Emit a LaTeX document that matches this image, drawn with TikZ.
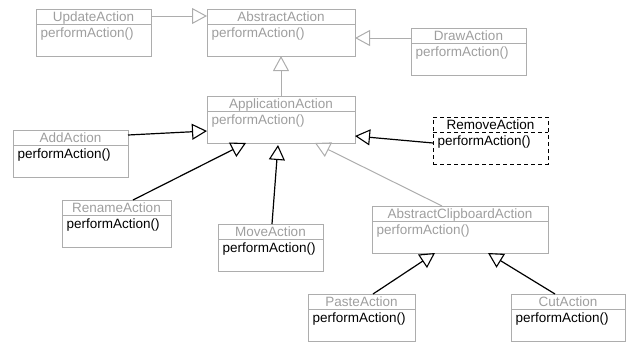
\documentclass[tikz,border=0pt]{standalone}
\usepackage{fontspec}
\setmainfont{Liberation Sans}
\usetikzlibrary{arrows.meta,calc}
\definecolor{boxgray}{gray}{0.68}
\definecolor{textgray}{gray}{0.62}

% class box: name, x, y (top left), width, box style, title colour, title, method colour, method
\newcommand\umlclass[9]{%
  \node[classbox,#5,minimum width=#4pt,anchor=north west] (#1) at (#2,#3) {};
  \draw[#5] ($(#1.north west)+(0,15)$) -- ($(#1.north east)+(0,15)$);
  \node[anchor=base,inner sep=0pt,text=#6] (#1-title) at ($(#1.north)+(0,12)$) {#7};
  \node[anchor=base west,inner sep=0pt,text=#8] (#1-method) at ($(#1.north west)+(4.5,28)$) {#9};
}

\begin{document}
\begin{tikzpicture}[x=1pt,y=-1pt,
  every node/.style={font=\fontsize{13.5}{16}\selectfont},
  classbox/.style={draw=boxgray,line width=0.9pt,minimum height=47pt,inner sep=0pt,outer sep=0pt},
  plainbox/.style={draw=boxgray,line width=0.9pt},
  dashbox/.style={draw=black,line width=1pt,dash pattern=on 4pt off 3pt},
  inherit/.style={line width=1.2pt,draw=black,
    -{Triangle[open,length=15pt,width=16pt,line width=1.1pt]}},
  inheritgray/.style={line width=1pt,draw=boxgray,
    -{Triangle[open,length=15pt,width=16pt,line width=1pt]}}]
\useasboundingbox (0,0) rectangle (629,343);

% classes
\umlclass{update}{36}{9}{115}{plainbox}{textgray}{UpdateAction}{textgray}{performAction()}
\umlclass{abstract}{207}{9}{148}{plainbox}{textgray}{AbstractAction}{textgray}{performAction()}
\umlclass{draw}{411}{28}{115}{plainbox}{textgray}{DrawAction}{textgray}{performAction()}
\umlclass{app}{207}{96}{148}{plainbox}{textgray}{ApplicationAction}{textgray}{performAction()}
\umlclass{add}{13}{130}{115}{plainbox}{textgray}{AddAction}{black}{performAction()}
\umlclass{remove}{433}{117}{115}{dashbox}{black}{RemoveAction}{black}{performAction()}
\umlclass{rename}{62}{200}{109}{plainbox}{textgray}{RenameAction}{black}{performAction()}
\umlclass{move}{218}{224}{105}{plainbox}{textgray}{MoveAction}{black}{performAction()}
\umlclass{clip}{372}{206}{176}{plainbox}{textgray}{AbstractClipboardAction}{textgray}{performAction()}
\umlclass{paste}{308}{294}{107}{plainbox}{textgray}{PasteAction}{black}{performAction()}
\umlclass{cut}{511}{294}{114}{plainbox}{textgray}{CutAction}{black}{performAction()}

% generalisations
\draw[inheritgray] ($(update.north east)+(0,7)$) -- ($(abstract.north west)+(0,7)$);
\draw[inheritgray] ($(draw.north west)+(0,10)$) -- ($(abstract.north east)+(0,29)$);
\draw[inheritgray] (app.north) -- (abstract.south);
\draw[inherit] ($(add.north east)+(0,5)$) -- ($(app.north west)+(0,35)$);
\draw[inherit] ($(rename.north west)+(71,0)$) -- ($(app.south west)+(39,0)$);
\draw[inherit] ($(move.north west)+(54,0)$) -- ($(app.south west)+(71,2)$);
\draw[inherit] ($(remove.north west)+(0,26)$) -- ($(app.north east)+(0,40)$);
\draw[inheritgray] ($(clip.north west)+(70,0)$) -- ($(app.south west)+(108,0)$);
\draw[inherit] ($(paste.north west)+(65,0)$) -- ($(clip.south west)+(63,0)$);
\draw[inherit] ($(cut.north west)+(44,0)$) -- ($(clip.south west)+(116,0)$);
\end{tikzpicture}
\end{document}
